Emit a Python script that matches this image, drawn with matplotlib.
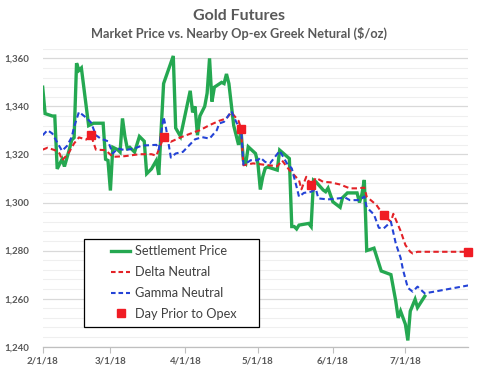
import matplotlib
matplotlib.use('Agg')
import matplotlib.pyplot as plt
import matplotlib.dates as mdates
from matplotlib.lines import Line2D
from matplotlib.patches import Rectangle
from matplotlib.ticker import FixedLocator, MultipleLocator
import pandas as pd

# ---------------- data ----------------
settle_dates = ['2018-02-01', '2018-02-02', '2018-02-05', '2018-02-06', '2018-02-07', '2018-02-09',
                '2018-02-10', '2018-02-12', '2018-02-13', '2018-02-14', '2018-02-15', '2018-02-16',
                '2018-02-17', '2018-02-20', '2018-02-22', '2018-02-26', '2018-02-27', '2018-02-28',
                '2018-03-01', '2018-03-02', '2018-03-04', '2018-03-05', '2018-03-06', '2018-03-07',
                '2018-03-08', '2018-03-09', '2018-03-11', '2018-03-13', '2018-03-15', '2018-03-16',
                '2018-03-18', '2018-03-20', '2018-03-21', '2018-03-23', '2018-03-27', '2018-03-28',
                '2018-03-30', '2018-04-03', '2018-04-04', '2018-04-05', '2018-04-06', '2018-04-07',
                '2018-04-09', '2018-04-10', '2018-04-11', '2018-04-12', '2018-04-13', '2018-04-16',
                '2018-04-17', '2018-04-18', '2018-04-19', '2018-04-21', '2018-04-23', '2018-04-24',
                '2018-04-25', '2018-04-26', '2018-04-27', '2018-04-30', '2018-05-01', '2018-05-02',
                '2018-05-03', '2018-05-04', '2018-05-05', '2018-05-09', '2018-05-10', '2018-05-14',
                '2018-05-15', '2018-05-16', '2018-05-17', '2018-05-18', '2018-05-22', '2018-05-23',
                '2018-05-24', '2018-05-25', '2018-05-28', '2018-05-29', '2018-05-30', '2018-06-01',
                '2018-06-04', '2018-06-05', '2018-06-07', '2018-06-11', '2018-06-12', '2018-06-13',
                '2018-06-14', '2018-06-15', '2018-06-18', '2018-06-21', '2018-06-25', '2018-06-27',
                '2018-06-28', '2018-06-29', '2018-07-01', '2018-07-02', '2018-07-03', '2018-07-05',
                '2018-07-06', '2018-07-09']
settle_vals = [1348, 1337, 1336, 1336, 1314, 1318,
               1315, 1322, 1326, 1327, 1358, 1355,
               1356, 1332, 1333, 1333, 1318, 1317.5,
               1305, 1323, 1322, 1321, 1335, 1327.5,
               1322.5, 1323, 1321, 1327.5, 1325.5, 1312,
               1314, 1317.5, 1311.5, 1349.5, 1361, 1331,
               1327.5, 1346.5, 1337.5, 1340, 1328, 1336,
               1340, 1345.5, 1360, 1342, 1348, 1350,
               1349.5, 1353.5, 1349.5, 1332, 1324, 1330,
               1317.5, 1316.3, 1323.2, 1320.4, 1316.3, 1305.4,
               1310.7, 1314.2, 1314.8, 1313.5, 1321.8, 1318.3,
               1290, 1290, 1289, 1290.6, 1291.3, 1290,
               1309.3, 1308.6, 1305.2, 1304.5, 1306, 1300.3,
               1298, 1302, 1304, 1304, 1300, 1303.4,
               1309.4, 1280, 1281, 1271.5, 1270, 1259,
               1252, 1254.8, 1249.3, 1242.6, 1254.8, 1259.7,
               1256.3, 1261]

delta_dates = ['2018-02-01', '2018-02-03', '2018-02-06', '2018-02-08', '2018-02-09', '2018-02-11',
               '2018-02-12', '2018-02-14', '2018-02-16', '2018-02-19', '2018-02-21', '2018-02-23',
               '2018-02-27', '2018-03-02', '2018-03-07', '2018-03-13', '2018-03-18', '2018-03-20',
               '2018-03-23', '2018-03-26', '2018-03-30', '2018-04-05', '2018-04-07', '2018-04-11',
               '2018-04-15', '2018-04-18', '2018-04-20', '2018-04-23', '2018-04-24', '2018-04-25',
               '2018-04-29', '2018-05-03', '2018-05-09', '2018-05-11', '2018-05-14', '2018-05-18',
               '2018-05-19', '2018-05-21', '2018-05-23', '2018-05-25', '2018-05-28', '2018-05-31',
               '2018-06-04', '2018-06-08', '2018-06-11', '2018-06-14', '2018-06-15', '2018-06-19',
               '2018-06-22', '2018-06-25', '2018-06-26', '2018-06-29', '2018-07-01', '2018-07-03',
               '2018-07-04', '2018-07-06', '2018-07-27']
delta_vals = [1322, 1322.8, 1321.8, 1320.4, 1317.6, 1319.7,
              1321.1, 1324.6, 1327.1, 1326.2, 1328, 1322,
              1321.8, 1319, 1319.3, 1320.1, 1320.1, 1319.5,
              1327.1, 1325.3, 1327.1, 1329.4, 1330.1, 1332.2,
              1334, 1335, 1337.5, 1334, 1330.8, 1315.5,
              1316.3, 1315.8, 1315.1, 1317.5, 1313.5, 1309.3,
              1305.5, 1310.7, 1307.2, 1310.3, 1308.6, 1308.4,
              1307.5, 1305.9, 1305.9, 1306.2, 1302.4, 1299,
              1294.7, 1292, 1295.3, 1288.2, 1282.3, 1279.5,
              1278.8, 1279.5, 1279.5]

gamma_dates = ['2018-02-01', '2018-02-03', '2018-02-05', '2018-02-07', '2018-02-09', '2018-02-11',
               '2018-02-13', '2018-02-14', '2018-02-16', '2018-02-19', '2018-02-21', '2018-02-23',
               '2018-02-25', '2018-02-28', '2018-03-02', '2018-03-04', '2018-03-07', '2018-03-11',
               '2018-03-14', '2018-03-20', '2018-03-21', '2018-03-23', '2018-03-24', '2018-03-26',
               '2018-03-28', '2018-03-31', '2018-04-04', '2018-04-05', '2018-04-08', '2018-04-11',
               '2018-04-14', '2018-04-15', '2018-04-17', '2018-04-18', '2018-04-20', '2018-04-22',
               '2018-04-23', '2018-04-24', '2018-04-25', '2018-04-27', '2018-04-28', '2018-05-01',
               '2018-05-02', '2018-05-04', '2018-05-06', '2018-05-10', '2018-05-13', '2018-05-15',
               '2018-05-17', '2018-05-18', '2018-05-20', '2018-05-23', '2018-05-25', '2018-05-26',
               '2018-05-30', '2018-06-04', '2018-06-06', '2018-06-08', '2018-06-12', '2018-06-14',
               '2018-06-15', '2018-06-18', '2018-06-20', '2018-06-22', '2018-06-25', '2018-06-27',
               '2018-06-29', '2018-06-30', '2018-07-02', '2018-07-04', '2018-07-06', '2018-07-09',
               '2018-07-27']
gamma_vals = [1328, 1330.1, 1328.7, 1325, 1321.5, 1323.5,
              1327.2, 1331.5, 1337.7, 1335.3, 1333.3, 1328,
              1326.6, 1325.5, 1320.4, 1322.5, 1321.8, 1322.5,
              1323.7, 1324, 1322, 1335.6, 1331, 1318.7,
              1320.4, 1321.1, 1325.3, 1326.3, 1327.2, 1326.6,
              1330.1, 1332.9, 1333.6, 1335, 1338, 1333.6,
              1331.6, 1331.5, 1315.8, 1316.9, 1317.6, 1317.6,
              1318.7, 1316.9, 1316.3, 1321.5, 1316.3, 1314.2,
              1306.5, 1302.4, 1304, 1304.5, 1305.5, 1301.7,
              1301.3, 1301.8, 1302.1, 1301, 1301, 1302.5,
              1298, 1295, 1289.5, 1289.2, 1292, 1283,
              1277, 1272, 1264.5, 1262.9, 1265, 1262.2,
              1265.5]

opex_dates = ['2018-02-21', '2018-03-23', '2018-04-24', '2018-05-23', '2018-06-22', '2018-07-27']
opex_vals = [1328, 1327.1, 1330.8, 1307.2, 1294.7, 1279.5]

tick_dates = ['2018-02-01', '2018-03-01', '2018-04-01', '2018-05-01', '2018-06-01', '2018-07-01']
tick_labels = ['2/1/18', '3/1/18', '4/1/18', '5/1/18', '6/1/18', '7/1/18']
y_ticks = [1240, 1260, 1280, 1300, 1320, 1340, 1360]

title = 'Gold Futures'
subtitle = 'Market Price vs. Nearby Op-ex Greek Netural ($/oz)'
series_names = ['Settlement Price', 'Delta Neutral', 'Gamma Neutral', 'Day Prior to Opex']

# ---------------- style ----------------
plt.rcParams['font.family'] = ['Lato', 'DejaVu Sans']
GREEN = '#25a851'
RED = '#e32227'
BLUE = '#2443d6'
SQ = '#f01c24'
TXT = '#595959'

fig = plt.figure(figsize=(4.78, 3.72), dpi=100)
ax = fig.add_axes([0.0893, 0.068, 0.8904, 0.801])

sd = pd.to_datetime(settle_dates)
dd = pd.to_datetime(delta_dates)
gd = pd.to_datetime(gamma_dates)
od = pd.to_datetime(opex_dates)

ax.plot(sd, settle_vals, color=GREEN, lw=2.4, solid_joinstyle='miter', zorder=3)
ax.plot(dd, delta_vals, color=RED, lw=1.5, dashes=(2.6, 1.6), zorder=4)
ax.plot(gd, gamma_vals, color=BLUE, lw=1.5, dashes=(2.6, 1.6), zorder=4)
ax.plot(od, opex_vals, ls='none', marker='s', ms=5.2, color=SQ, mec=SQ, zorder=5, clip_on=False)

ax.set_xlim(pd.Timestamp('2018-02-01'), pd.Timestamp('2018-07-27'))
ax.set_ylim(1240, 1364)

ax.yaxis.set_major_locator(FixedLocator(y_ticks))
ax.yaxis.set_minor_locator(MultipleLocator(4))
ax.set_yticklabels([f'{v:,}' for v in y_ticks])
ax.grid(axis='y', which='major', color='#d9d9d9', lw=0.9, zorder=0)
ax.grid(axis='y', which='minor', color='#efefef', lw=0.8, zorder=0)
ax.set_axisbelow(True)

ax.xaxis.set_major_locator(FixedLocator(mdates.date2num(pd.to_datetime(tick_dates))))
ax.set_xticklabels(tick_labels)

for s in ['top', 'right', 'left']:
    ax.spines[s].set_visible(False)
ax.spines['bottom'].set_color('#bfbfbf')
ax.spines['bottom'].set_linewidth(0.9)

ax.tick_params(axis='y', which='both', length=0, pad=10, labelsize=7, labelcolor=TXT)
ax.tick_params(axis='x', which='major', length=4, width=0.8, color='#bfbfbf', pad=3,
               labelsize=7, labelcolor=TXT)
for lab in ax.get_xticklabels() + ax.get_yticklabels():
    lab.set_fontweight('bold')

fig.text(0.5, 0.957, title, ha='center', va='center', fontsize=11.5, fontweight='bold', color=TXT)
fig.text(0.5, 0.91, subtitle, ha='center', va='center', fontsize=9.2, fontweight='bold', color=TXT)

# legend frame drawn separately (box is larger than its contents)
ax.add_patch(Rectangle((0.0977, 0.067), 0.411, 0.2934, transform=ax.transAxes,
                       facecolor='white', edgecolor='black', lw=0.9, zorder=6))
handles = [Line2D([], [], color=GREEN, lw=2.4),
           Line2D([], [], color=RED, lw=1.5, dashes=(2.2, 1.4)),
           Line2D([], [], color=BLUE, lw=1.5, dashes=(2.2, 1.4)),
           Line2D([], [], ls='none', marker='s', ms=5.2, color=SQ)]
leg = ax.legend(handles, series_names, loc='upper left', bbox_to_anchor=(0.1605, 0.341),
                frameon=False, fontsize=9.2, handlelength=1.5, handletextpad=0.4,
                labelspacing=0.7, borderpad=0, borderaxespad=0)
leg.set_zorder(7)
for t in leg.get_texts():
    t.set_color('#404040')

fig.savefig('out.png', dpi=100)
